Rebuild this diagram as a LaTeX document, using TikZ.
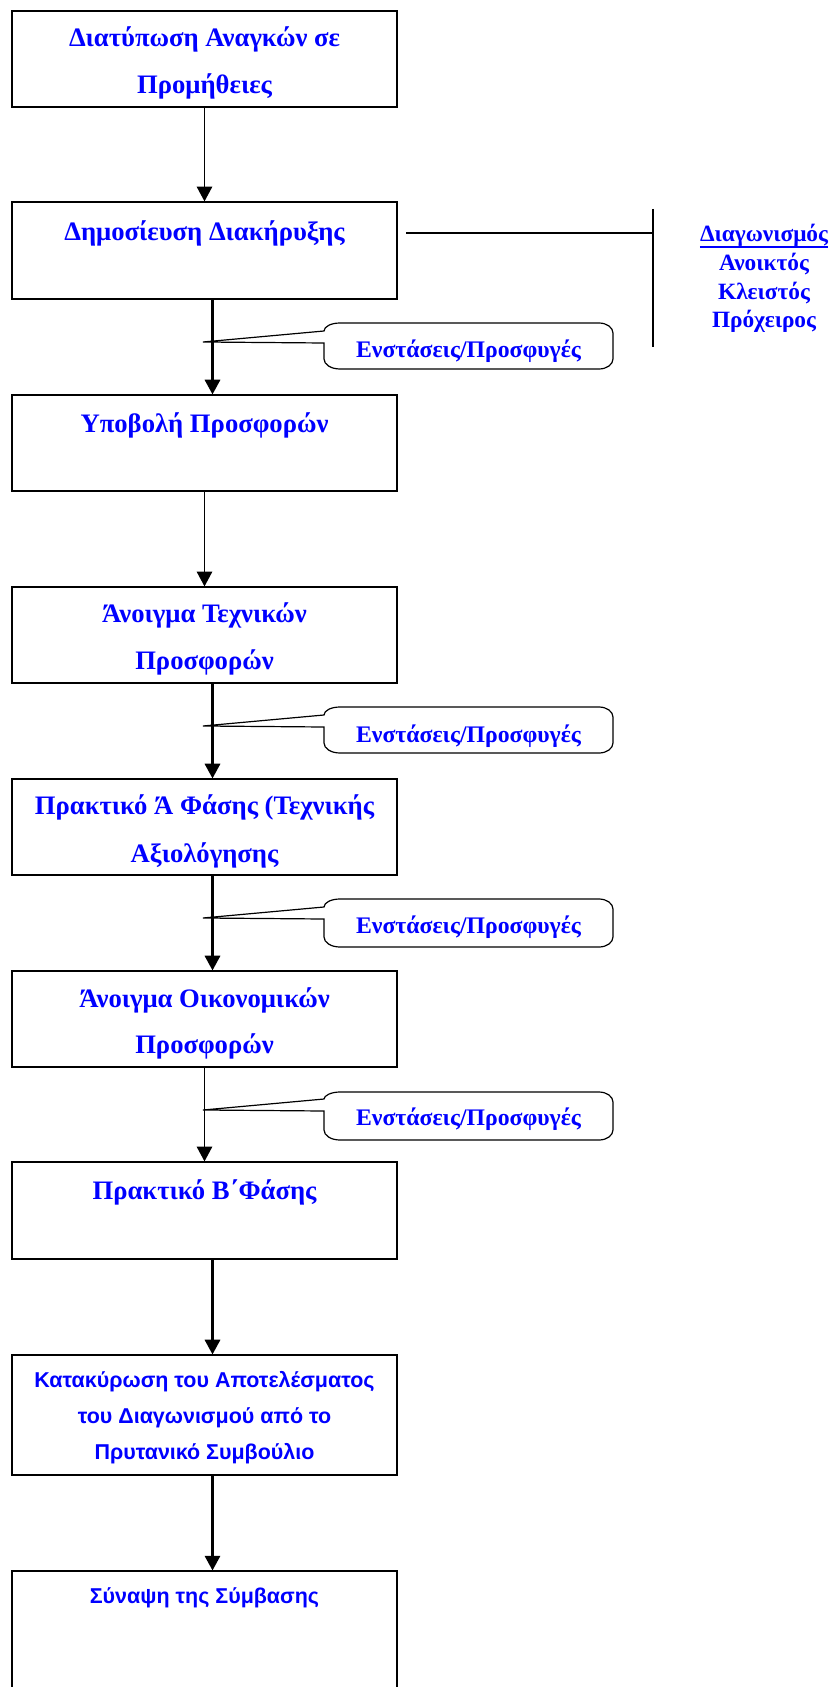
\documentclass[tikz,border=0pt]{standalone}
\usepackage{fontspec}
\setmainfont{Liberation Serif}
\newfontfamily\arialfont{Liberation Sans}
\usetikzlibrary{arrows.meta}
\definecolor{txtblue}{RGB}{0,0,255}
\newcommand\mycallout[5]{%
  \draw[callline] (203,#2) -- (324,#2-11) .. controls (324,#3+3.6) and (331,#3) .. (340,#3) -- (599,#3)
    .. controls (606.7,#3) and (613,#3+4.5) .. (613,#3+10) -- (613,#4-10)
    .. controls (613,#4-4.5) and (606.7,#4) .. (599,#4)
    -- (340,#4) .. controls (331,#4) and (324,#4-4.5) .. (324,#4-10) -- (324,#2+1) -- cycle;
  \node[calltext] (#1) at (468.5,#5) {Ενστάσεις/Προσφυγές};
}
\begin{document}
\begin{tikzpicture}[x=0.75pt,y=-0.75pt,
  box/.style={draw,line width=0.9pt,minimum width=288.75pt,inner sep=0pt},
  thinarrow/.style={line width=1.05pt,-{Triangle[length=11pt,width=11.5pt]}},
  thickarrow/.style={line width=1.7pt,-{Triangle[length=11pt,width=11.5pt]}},
  serif/.style={text=txtblue,font=\fontsize{20}{20}\selectfont\bfseries,anchor=base,inner sep=0pt},
  sans/.style={text=txtblue,font=\arialfont\fontsize{16.1}{16.1}\selectfont\bfseries,anchor=base,inner sep=0pt},
  calltext/.style={text=txtblue,font=\fontsize{17.8}{17.8}\selectfont\bfseries,anchor=base,inner sep=0pt},
  diag/.style={text=txtblue,font=\fontsize{17.5}{17.5}\selectfont\bfseries,anchor=base,inner sep=0pt},
  callline/.style={line width=0.9pt},
  plainline/.style={line width=1pt}]
\useasboundingbox[fill=white] (0,0) rectangle (834,1687);
% boxes
\node[box,minimum height=72pt] (b1) at (204.5,59) {};
\node[box,minimum height=72.75pt] (b2) at (204.5,250.5) {};
\node[box,minimum height=72pt] (b3) at (204.5,443) {};
\node[box,minimum height=72pt] (b4) at (204.5,635) {};
\node[box,minimum height=72pt] (b5) at (204.5,827) {};
\node[box,minimum height=72pt] (b6) at (204.5,1019) {};
\node[box,minimum height=72.75pt] (b7) at (204.5,1210.5) {};
\node[box,minimum height=90pt] (b8) at (204.5,1415) {};
\node[box,minimum height=97pt] (b9) at (204.5,1635.7) {};
% texts
\node[serif] (t1a) at (204.5,47) {Διατύπωση Αναγκών σε};
\node[serif] (t1b) at (204.5,94) {Προμήθειες};
\node[serif] (t2) at (204.5,241) {Δημοσίευση Διακήρυξης};
\node[serif] (t3) at (204.5,432) {Υποβολή Προσφορών};
\node[serif] (t4a) at (204.5,622) {Άνοιγμα Τεχνικών};
\node[serif] (t4b) at (204.5,669) {Προσφορών};
\node[serif] (t5a) at (204.5,814) {Πρακτικό Ά Φάσης (Τεχνικής};
\node[serif] (t5b) at (204.5,862) {Αξιολόγησης};
\node[serif] (t6a) at (204.5,1007) {Άνοιγμα Οικονομικών};
\node[serif] (t6b) at (204.5,1053) {Προσφορών};
\node[serif] (t7) at (204.5,1199) {Πρακτικό Β΄Φάσης};
\node[sans] (t8a) at (204.5,1387) {Κατακύρωση του Αποτελέσματος};
\node[sans] (t8b) at (204.5,1423) {του Διαγωνισμού από το};
\node[sans] (t8c) at (204.5,1459) {Πρυτανικό Συμβούλιο};
\node[sans] (t9) at (204.5,1603) {Σύναψη της Σύμβασης};
% arrows
\draw[thinarrow] (b1.south) -- (b2.north);
\draw[thickarrow] ([xshift=6pt]b2.south) -- ([xshift=6pt]b3.north);
\draw[thinarrow] (b3.south) -- (b4.north);
\draw[thickarrow] ([xshift=6pt]b4.south) -- ([xshift=6pt]b5.north);
\draw[thickarrow] ([xshift=6pt]b5.south) -- ([xshift=6pt]b6.north);
\draw[thinarrow] (b6.south) -- (b7.north);
\draw[thickarrow] ([xshift=6pt]b7.south) -- ([xshift=6pt]b8.north);
\draw[thickarrow] ([xshift=6pt]b8.south) -- ([xshift=6pt]b9.north);
% callouts
\mycallout{c1}{342}{323}{369}{357}
\mycallout{c2}{726}{707}{753}{742}
\mycallout{c3}{918}{899}{947}{933}
\mycallout{c4}{1110}{1092}{1140}{1125}
% tender types
\coordinate (hl) at (406,233);
\coordinate (vt) at (653,209);
\coordinate (vb) at (653,347);
\draw[plainline] (hl) -- (vt |- hl);
\draw[plainline] (vt) -- (vb);
\node[diag] (d1) at (764,242) {Διαγωνισμός};
\draw[txtblue,line width=1.1pt] ([yshift=-3.75pt]d1.base west) -- ([yshift=-3.75pt]d1.base east);
\node[diag] (d2) at (764,271) {Ανοικτός};
\node[diag] (d3) at (764,299) {Κλειστός};
\node[diag] (d4) at (764,327) {Πρόχειρος};
\end{tikzpicture}
\end{document}
